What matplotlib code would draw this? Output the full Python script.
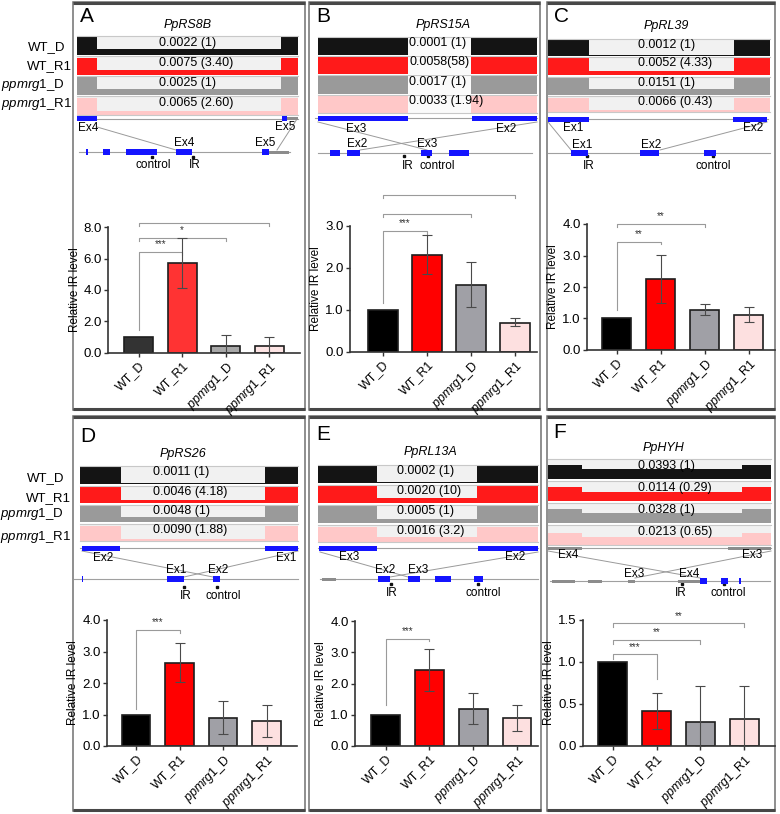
import matplotlib
matplotlib.use('Agg')
import matplotlib.pyplot as plt
from matplotlib.patches import Rectangle

plt.rcParams['font.family'] = ['Liberation Sans', 'DejaVu Sans']
plt.rcParams['mathtext.fontset'] = 'custom'
plt.rcParams['mathtext.it'] = 'Liberation Sans:italic'
plt.rcParams['mathtext.rm'] = 'Liberation Sans'

W, H = 780, 814

# ---- data -------------------------------------------------------------
groups = ['WT_D', 'WT_R1', r'$\mathit{ppmrg1}$_D', r'$\mathit{ppmrg1}$_R1']
letters = ['A', 'B', 'C', 'D', 'E', 'F']
genes = ['PpRS8B', 'PpRS15A', 'PpRL39', 'PpRS26', 'PpRL13A', 'PpHYH']

ratio_labels = [
    ['0.0022 (1)', '0.0075 (3.40)', '0.0025 (1)', '0.0065 (2.60)'],
    ['0.0001 (1)', '0.0058(58)', '0.0017 (1)', '0.0033 (1.94)'],
    ['0.0012 (1)', '0.0052 (4.33)', '0.0151 (1)', '0.0066 (0.43)'],
    ['0.0011 (1)', '0.0046 (4.18)', '0.0048 (1)', '0.0090 (1.88)'],
    ['0.0002 (1)', '0.0020 (10)', '0.0005 (1)', '0.0016 (3.2)'],
    ['0.0393 (1)', '0.0114 (0.29)', '0.0328 (1)', '0.0213 (0.65)'],
]

# relative read coverage (exon / intron) of each track
exon_cov = [
    [0.95, 0.92, 0.95, 0.9],
    [1.0, 1.0, 1.0, 1.0],
    [0.95, 0.95, 0.95, 0.9],
    [0.95, 0.95, 0.95, 0.9],
    [0.95, 0.95, 0.95, 0.9],
    [0.7, 0.68, 0.7, 0.62],
]
intron_cov = [
    [0.3, 0.25, 0.3, 0.2],
    [0.0, 0.0, 0.0, 0.0],
    [0.05, 0.2, 0.35, 0.1],
    [0.05, 0.2, 0.3, 0.1],
    [0.08, 0.3, 0.2, 0.3],
    [0.5, 0.45, 0.5, 0.42],
]

ir_mean = [
    [1.0, 5.7, 0.45, 0.45],
    [1.0, 2.3, 1.6, 0.7],
    [1.0, 2.25, 1.28, 1.1],
    [1.0, 2.65, 0.9, 0.8],
    [1.0, 2.42, 1.2, 0.9],
    [1.0, 0.42, 0.28, 0.32],
]
ir_err_lo = [
    [0, 1.6, 0.45, 0.45],
    [0, 0.45, 0.52, 0.08],
    [0, 0.77, 0.18, 0.2],
    [0, 0.62, 0.52, 0.5],
    [0, 0.67, 0.5, 0.42],
    [0, 0.22, 0.28, 0.32],
]
ir_err_hi = [
    [0, 1.6, 0.7, 0.57],
    [0, 0.48, 0.54, 0.12],
    [0, 0.77, 0.19, 0.25],
    [0, 0.63, 0.53, 0.5],
    [0, 0.7, 0.5, 0.42],
    [0, 0.21, 0.44, 0.4],
]
y_max = [8, 3, 4, 4, 4, 1.5]
y_step = [2, 1, 1, 1, 1, 0.5]

# significance: (group i, group j, bracket y, left leg end, right leg end, label)
brackets = [
    [(0, 1, 6.4, 1.45, 6.2, '***'), (0, 2, 7.3, 7.1, 7.1, '*'), (0, 3, 8.28, 8.05, 8.05, '*')],
    [(0, 1, 2.88, 1.17, 2.8, '***'), (0, 2, 3.29, 3.21, 3.21, '**'), (0, 3, 3.74, 3.66, 3.66, '***')],
    [(0, 1, 3.43, 1.27, 3.35, '**'), (0, 2, 4.0, 3.9, 3.9, '**')],
    [(0, 1, 3.68, 1.17, 3.6, '***')],
    [(0, 1, 3.42, 1.3, 3.35, '***')],
    [(0, 1, 1.09, 1.04, 0.8, '***'), (0, 2, 1.26, 1.22, 1.22, '**'), (0, 3, 1.46, 1.42, 1.42, '**')],
]

# ---- layout (pixels) --------------------------------------------------
frames = [(73, 2, 305, 410), (309, 2, 540, 410), (547, 2, 775, 410),
          (73, 416, 305, 811), (309, 416, 541, 811), (547, 416, 775, 811)]
letter_pos = [(80, 17), (316, 16), (554, 16), (80, 436), (316, 434), (553, 432)]
title_pos = [(188, 25), (443, 25), (666, 26), (183, 454), (430, 452), (663, 448)]
track_x = [(77, 298), (318, 537), (548, 770), (80, 298), (318, 538), (548, 771)]
exon_edges = [(97, 281), (408, 471), (589, 734), (121, 265), (377, 477), (582, 742)]
text_x = [159, 409, 638, 153, 397, 638]
track_y = [
    [(36, 55), (56, 75), (76, 95), (96, 115)],
    [(37, 55), (56, 74), (75, 94), (95, 113)],
    [(39, 56), (57, 75), (77, 95), (96, 112)],
    [(466, 484), (486, 503), (505, 522), (524, 541)],
    [(465, 483), (485, 503), (505, 523), (525, 542)],
    [(459, 479), (481, 501), (503, 523), (525, 545)],
]
side_labels = [
    [(65, 47), (72, 66), (65, 85), (72, 104)],
    [(64, 478), (71, 498), (64, 514), (71, 537)],
]
bar_axes = [(108, 227, 300, 353), (350, 226, 537, 352), (587, 224, 775, 350),
            (107, 620, 297, 746), (355, 621, 538, 746), (583, 620, 775, 746)]
bar_xlim = [(-0.7, 3.7), (-0.75, 3.5), (-0.68, 3.6), (-0.67, 3.7), (-0.7, 3.48), (-0.68, 3.7)]

# gene model schematics
models = [
    dict(top=(77, 298, 118.5), top_ex=[(77, 97, 'b'), (282, 287, 'b'), (287, 298, 'g')],
         labels=[('Ex4', 88, 128), ('Ex5', 285, 127), ('Ex4', 184, 143), ('Ex5', 265, 143)],
         bot=(79, 290, 152),
         bot_ex=[(86, 88, 'b'), (103, 110, 'b'), (126, 157, 'b'), (176, 192, 'b'), (262, 269, 'b'), (269, 289, 'g')],
         links=[(97, 127, 176, 150), (297, 119, 277, 150)],
         marks=[(152, 153, 'control'), (193, 195, 'IR')], dot_y=157, mark_y=165),
    dict(top=(315, 537, 118), top_ex=[(318, 408, 'b'), (472, 537, 'b')],
         labels=[('Ex3', 356, 129), ('Ex2', 506, 129), ('Ex2', 357, 144), ('Ex3', 427, 144)],
         bot=(318, 532, 153),
         bot_ex=[(330, 340, 'b'), (347, 360, 'b'), (421, 432, 'b'), (449, 469, 'b')],
         links=[(318, 122, 427, 150), (537, 122, 360, 150)],
         marks=[(404, 408, 'IR'), (428, 437, 'control')], dot_y=156, mark_y=166),
    dict(top=(548, 768, 119), top_ex=[(548, 589, 'b'), (733, 767, 'b')],
         labels=[('Ex1', 573, 128), ('Ex2', 753, 128), ('Ex1', 582, 145), ('Ex2', 651, 145)],
         bot=(548, 770, 153),
         bot_ex=[(571, 588, 'b'), (640, 659, 'b'), (704, 716, 'b')],
         links=[(548, 122, 571, 150), (767, 122, 660, 150)],
         marks=[(587, 589, 'IR'), (713, 713, 'control')], dot_y=156, mark_y=166),
    dict(top=(80, 298, 548), top_ex=[(82, 120, 'b'), (265, 298, 'b')],
         labels=[('Ex2', 103, 558), ('Ex1', 286, 558), ('Ex1', 176, 570), ('Ex2', 218, 570)],
         bot=(74, 298, 579),
         bot_ex=[(82, 83, 'b'), (167, 184, 'b'), (213, 220, 'b')],
         links=[(82, 551, 213, 577), (298, 551, 184, 577)],
         marks=[(184, 186, 'IR'), (217, 223, 'control')], dot_y=587, mark_y=596),
    dict(top=(318, 538, 548), top_ex=[(319, 377, 'b'), (478, 538, 'b')],
         labels=[('Ex3', 349, 557), ('Ex2', 515, 557), ('Ex2', 385, 570), ('Ex3', 418, 570)],
         bot=(320, 538, 579),
         bot_ex=[(322, 336, 'g'), (378, 390, 'b'), (408, 420, 'b'), (435, 451, 'b'), (474, 483, 'b')],
         links=[(320, 552, 408, 577), (538, 552, 390, 577)],
         marks=[(391, 392, 'IR'), (478, 483, 'control')], dot_y=584, mark_y=593),
    dict(top=(548, 771, 548), top_ex=[(548, 582, 'g'), (728, 771, 'g')],
         labels=[('Ex4', 568, 555), ('Ex3', 752, 555), ('Ex3', 634, 574), ('Ex4', 689, 574)],
         bot=(550, 770, 581),
         bot_ex=[(552, 575, 'g'), (588, 602, 'g'), (628, 635, 'g'), (678, 700, 'g'),
                 (700, 707, 'b'), (721, 728, 'b'), (739, 741, 'b')],
         links=[(548, 551, 700, 578), (771, 551, 635, 578)],
         marks=[(682, 681, 'IR'), (724, 728, 'control')], dot_y=584, mark_y=593),
]

track_colors = ['#141414', '#ff1a1a', '#9a9a9a', '#ffc8c8']
bar_colors = ['#000000', '#ff0000', '#a0a0a6', '#fde0e0']
bar_colors_a = ['#333333', '#ff3333', '#a8a8a8', '#fde4e4']
exon_color = {'b': '#1414ff', 'g': '#8c8c8c'}

# ---- figure -----------------------------------------------------------
fig = plt.figure(figsize=(W / 100, H / 100), dpi=100)
ov = fig.add_axes([0, 0, 1, 1])
ov.set_xlim(0, W)
ov.set_ylim(H, 0)
ov.axis('off')

for r, row in enumerate(side_labels):
    for (x, y), lab in zip(row, groups):
        ov.text(x, y, lab, ha='right', va='center', fontsize=9.5)

for p in range(6):
    x0, y0, x1, y1 = frames[p]
    ov.add_patch(Rectangle((x0, y0), x1 - x0, y1 - y0, fill=False, ec='#707070', lw=1.1))
    ov.plot([x0, x1], [y0 + 1, y0 + 1], color='#474747', lw=2.2, solid_capstyle='butt')
    ov.plot([x0, x1], [y1 - 1, y1 - 1], color='#474747', lw=2.2, solid_capstyle='butt')

    ov.text(*letter_pos[p], letters[p], fontsize=15, ha='left', va='center')
    ov.text(*title_pos[p], genes[p], fontsize=9, style='italic', ha='center', va='center')

    # coverage tracks
    tx0, tx1 = track_x[p]
    el, er = exon_edges[p]
    for k, (yt, yb) in enumerate(track_y[p]):
        h = yb - yt
        bg = '#fafafa' if p == 1 else '#f1f1f1'
        ov.add_patch(Rectangle((tx0, yt), tx1 - tx0, h, fc=bg, ec='none'))
        ov.plot([tx0, tx1], [yt, yt], color='#c8c8c8', lw=0.8)
        hx = exon_cov[p][k] * h
        hi = intron_cov[p][k] * h
        c = track_colors[k]
        ov.add_patch(Rectangle((tx0, yb - hx), el - tx0, hx, fc=c, ec='none'))
        ov.add_patch(Rectangle((er, yb - hx), tx1 - er, hx, fc=c, ec='none'))
        if hi > 0:
            ov.add_patch(Rectangle((el, yb - hi), er - el, hi, fc=c, ec='none'))
        ov.text(text_x[p], yt + 0.36 * h, ratio_labels[p][k], fontsize=9,
                ha='left', va='center', zorder=5)
    ov.plot([tx0, tx1], [track_y[p][-1][1], track_y[p][-1][1]], color='#c8c8c8', lw=0.8)

    # gene model
    m = models[p]
    lx0, lx1, ly = m['top']
    ov.plot([lx0, lx1], [ly, ly], color='#a0a0a0', lw=0.8, zorder=2)
    for a, b, c in m['top_ex']:
        hh = 5 if c == 'b' else 3
        ov.add_patch(Rectangle((a, ly - hh / 2), b - a, hh, fc=exon_color[c], ec='none', zorder=3))
    bx0, bx1, by = m['bot']
    ov.plot([bx0, bx1], [by, by], color='#a0a0a0', lw=0.8, zorder=2)
    for a, b, c in m['bot_ex']:
        hh = 6 if c == 'b' else 3
        ov.add_patch(Rectangle((a, by - hh / 2), max(b - a, 1), hh, fc=exon_color[c], ec='none', zorder=3))
    for xa, ya, xb, yb in m['links']:
        ov.plot([xa, xb], [ya, yb], color='#9a9a9a', lw=0.7, zorder=2)
    for lab, x, y in m['labels']:
        ov.text(x, y, lab, fontsize=8.5, ha='center', va='center', zorder=4)
    for dx, tx, lab in m['marks']:
        ov.plot(dx, m['dot_y'], marker='s', ms=1.8, color='#111111')
        ov.text(tx, m['mark_y'], lab, fontsize=8.5, ha='center', va='center')

    # bar chart
    ax0, ayt, ax1, ayb = bar_axes[p]
    ax = fig.add_axes([ax0 / W, 1 - ayb / H, (ax1 - ax0) / W, (ayb - ayt) / H])
    ax.patch.set_alpha(0)
    xs = list(range(4))
    cols = bar_colors_a if p == 0 else bar_colors
    ax.bar(xs, ir_mean[p], width=0.66, color=cols, edgecolor='#1e1e1e', linewidth=1.2, zorder=2)
    ax.errorbar(xs[1:], ir_mean[p][1:], yerr=[ir_err_lo[p][1:], ir_err_hi[p][1:]], fmt='none',
                ecolor='#4a4a4a', elinewidth=0.8, capsize=3.5, capthick=0.8, zorder=3)
    for i, j, yb, ll, rl, lab in brackets[p]:
        ax.plot([i, i, j, j], [ll, yb, yb, rl], color='#9a9a9a', lw=0.8, clip_on=False)
        ax.annotate(lab, ((i + j) / 2, yb), xytext=(0, 2), textcoords='offset points',
                    ha='center', va='bottom', fontsize=7, color='#333333')
    ax.set_xlim(*bar_xlim[p])
    ax.set_ylim(0, y_max[p])
    n = int(round(y_max[p] / y_step[p]))
    ax.set_yticks([y_step[p] * t for t in range(n + 1)])
    ax.set_yticklabels(['%.1f' % (y_step[p] * t) for t in range(n + 1)], fontsize=9.5)
    ax.set_xticks(xs)
    ax.set_xticklabels(groups, rotation=45, ha='right', rotation_mode='anchor', fontsize=9)
    ax.set_ylabel('Relative IR level', fontsize=8.5, labelpad=2)
    for s in ['top', 'right']:
        ax.spines[s].set_visible(False)
    for s in ['left', 'bottom']:
        ax.spines[s].set_color('#333333')
        ax.spines[s].set_linewidth(1.2)
    ax.tick_params(length=3, width=1, color='#333333', pad=1.5)

fig.savefig('out.png', dpi=100)
